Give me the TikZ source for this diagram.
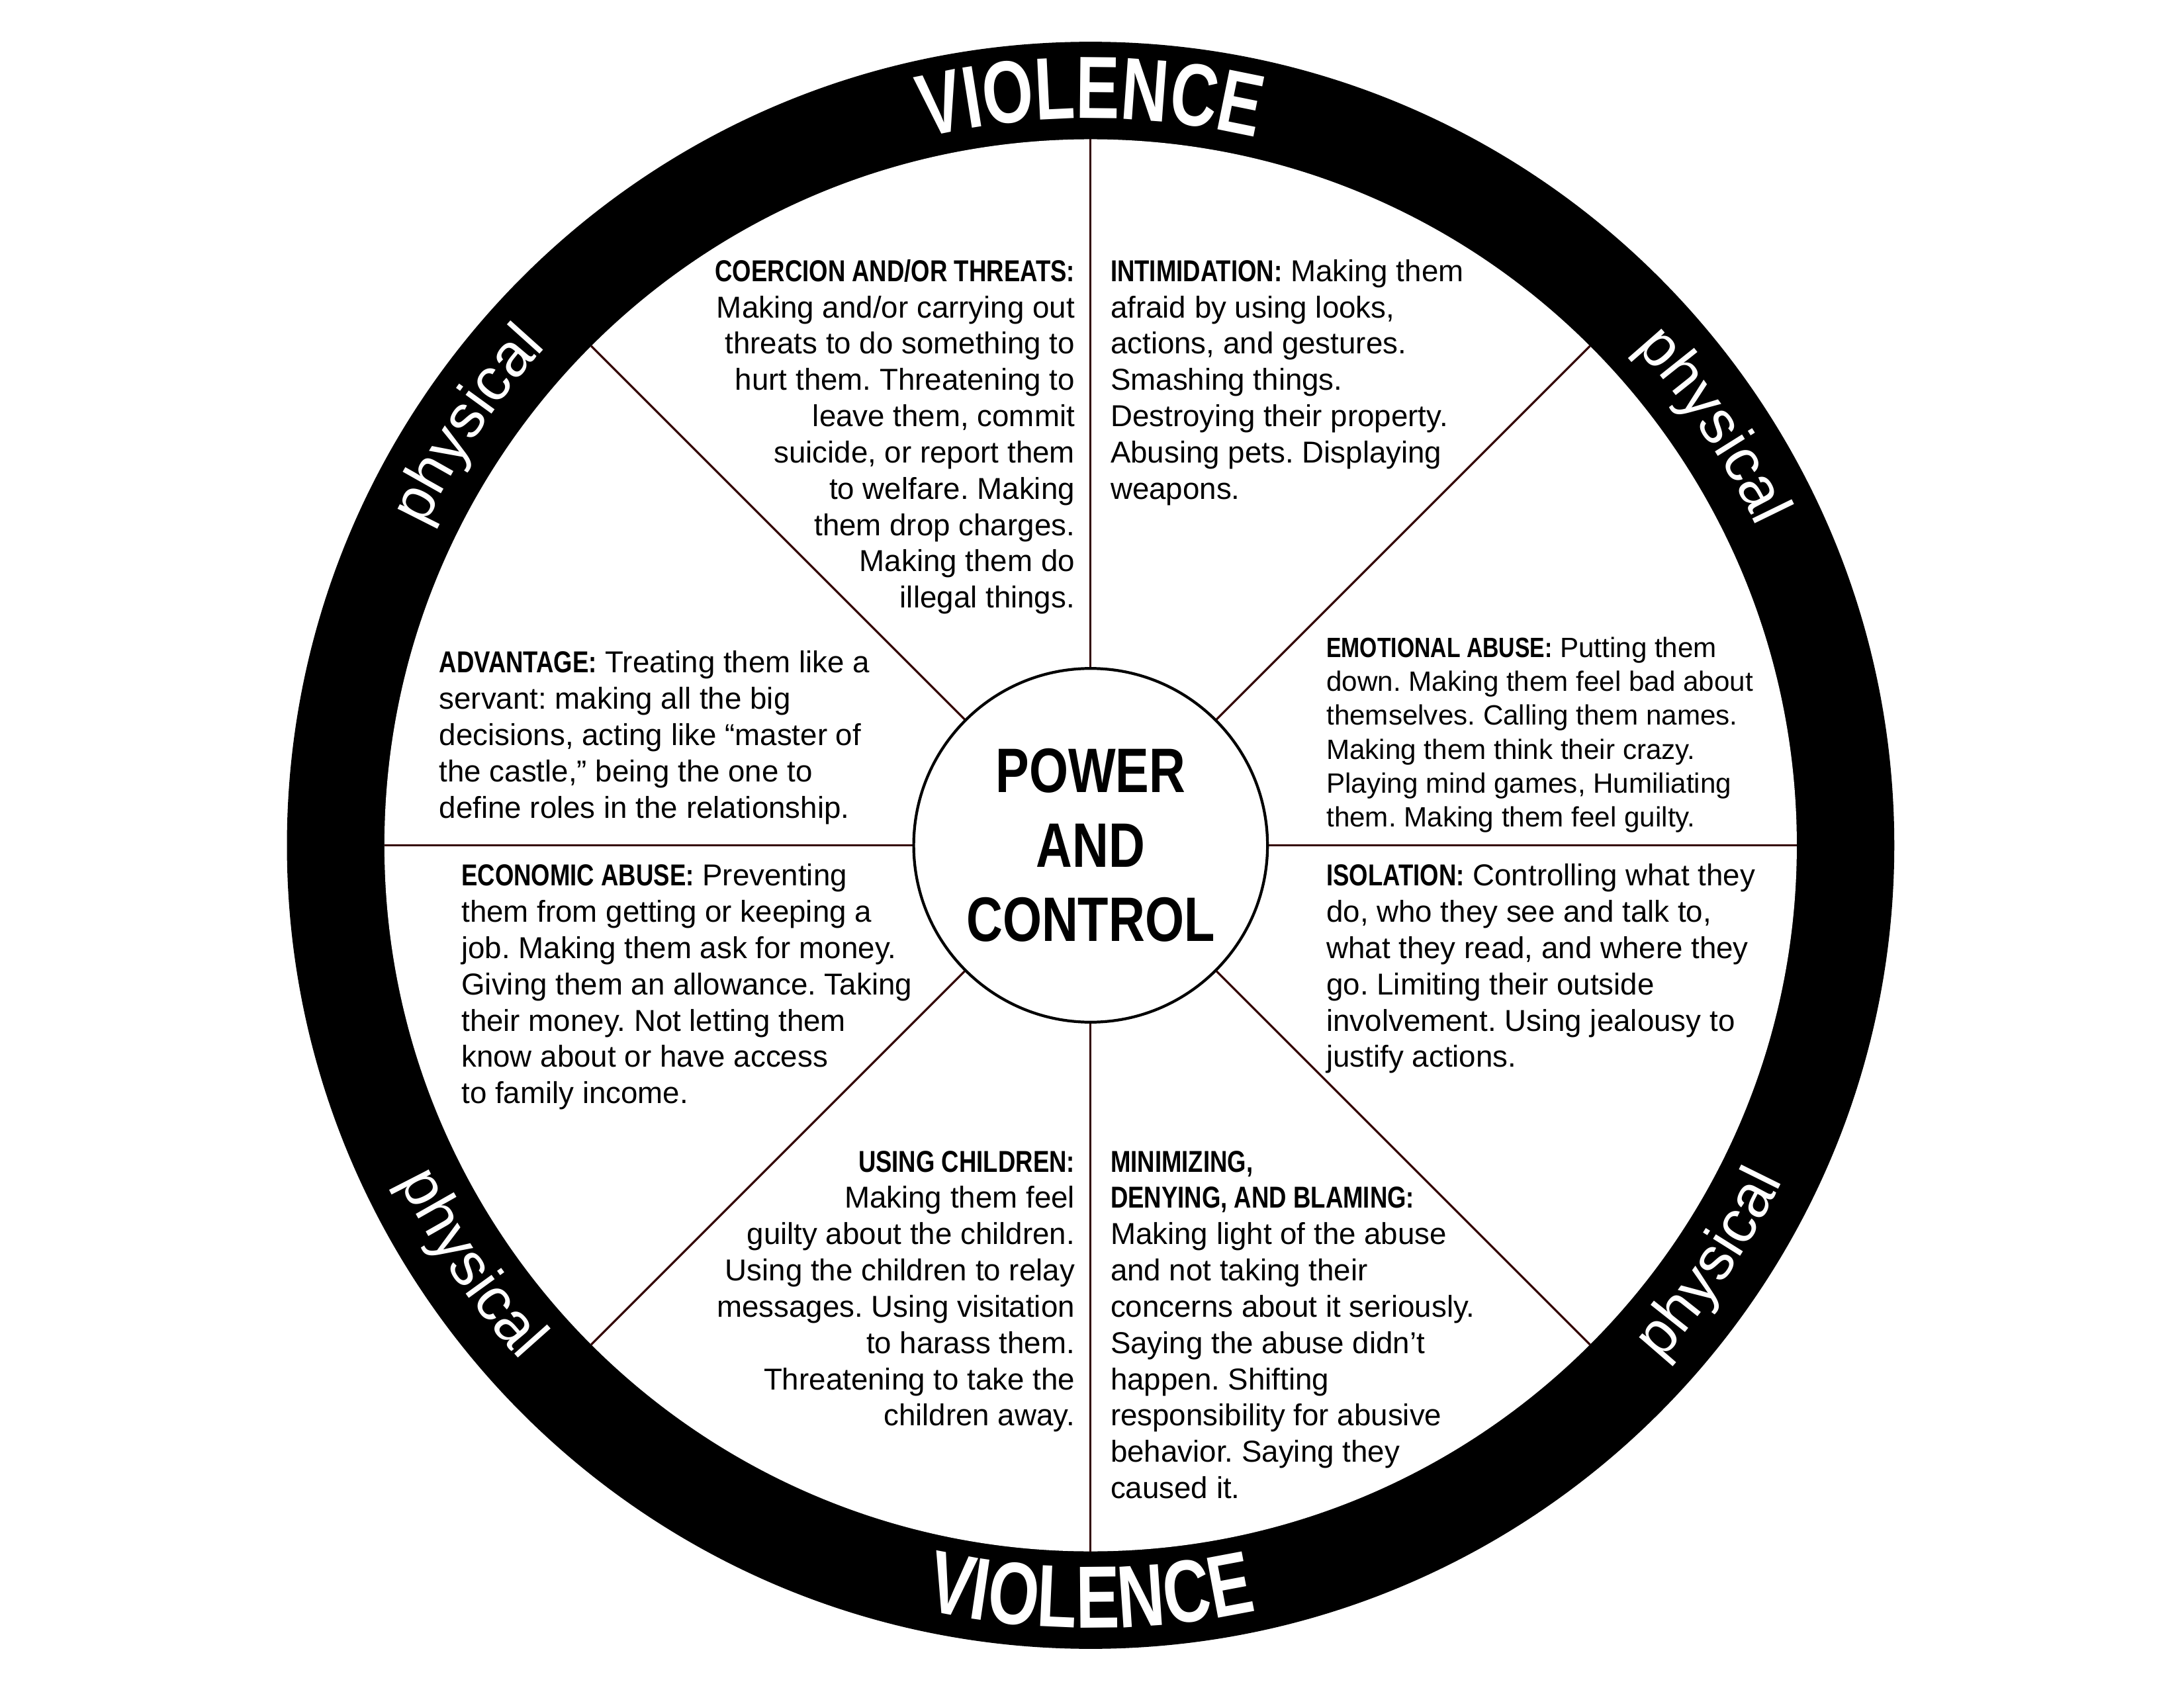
\documentclass[tikz,border=0pt]{standalone}
\usepackage{fontspec}
\setmainfont{Liberation Sans}
\newfontfamily\cond[FakeStretch=0.8]{Liberation Sans Bold}
\newfontfamily\vcond[FakeStretch=0.74]{Liberation Sans Bold}
\usetikzlibrary{decorations.text,calc}
\newcommand{\hd}[1]{{\cond #1}}
\frenchspacing
\tikzset{
  body/.style={font=\fontsize{13}{15.6}\selectfont, inner sep=0pt},
  spoke/.style={draw=black!80!red, line width=0.9pt},
}
\begin{document}
\begin{tikzpicture}[x=0.021046cm,y=0.021046cm]
\useasboundingbox (-783,-602) rectangle (785,607);
\coordinate (c) at (0,0);
% ring
\fill[black] (c) circle (577);
\fill[white] (c) circle (507);
% spokes
\foreach \a in {0,45,...,315}{
  \draw[spoke] ($(c)+(\a:127)$) -- ($(c)+(\a:507)$);
}
\node[draw=black, line width=1.2pt, circle, minimum size=254*0.021046cm, fill=white, inner sep=0pt,
  font=\cond\fontsize{27}{32}\selectfont, align=center] (pc) at (c) {POWER\\AND\\CONTROL};
% curved texts
\path[decorate, decoration={text along path, text align=center,
  text={|\color{white}\vcond\fontsize{38}{44}\selectfont|VIOLENCE}}]
  (115:522) arc[start angle=115, end angle=65, radius=522];
\path[decorate, decoration={text along path, text align=center,
  text={|\color{white}\vcond\fontsize{38}{44}\selectfont|VIOLENCE}}]
  (245:562) arc[start angle=245, end angle=295, radius=562];
\foreach \m in {146,34}{
\path[decorate, decoration={text along path, text align=center,
  text={|\color{white}\fontsize{26}{30}\selectfont|physical}}]
  ({\m+25}:530) arc[start angle={\m+25}, end angle={\m-25}, radius=530];
}
\foreach \m in {214,326}{
\path[decorate, decoration={text along path, text align=center,
  text={|\color{white}\fontsize{26}{30}\selectfont|physical}}]
  ({\m-25}:552) arc[start angle={\m-25}, end angle={\m+25}, radius=552];
}
% texts (screen coords converted: x-783, 607-y)
\node[body, anchor=north east, align=right] (coer) at (-11,421) {\hd{COERCION AND/OR THREATS:}\\Making and/or carrying out\\threats to do something to\\hurt them. Threatening to\\leave them, commit\\suicide, or report them\\to welfare. Making\\them drop charges.\\Making them do\\illegal things.};
\node[body, anchor=north west, align=left] (intim) at (14,421) {\hd{INTIMIDATION:} Making them\\afraid by using looks,\\actions, and gestures.\\Smashing things.\\Destroying their property.\\Abusing pets. Displaying\\weapons.};
\node[body, anchor=north west, align=left, font=\fontsize{12}{14.6}\selectfont] (emo) at (169,150) {\hd{EMOTIONAL ABUSE:} Putting them\\down. Making them feel bad about\\themselves. Calling them names.\\Making them think their crazy.\\Playing mind games, Humiliating\\them. Making them feel guilty.};
\node[body, anchor=north west, align=left] (iso) at (169,-13) {\hd{ISOLATION:} Controlling what they\\do, who they see and talk to,\\what they read, and where they\\go. Limiting their outside\\involvement. Using jealousy to\\justify actions.};
\node[body, anchor=north west, align=left] (mini) at (14,-219) {\hd{MINIMIZING,}\\\hd{DENYING, AND BLAMING:}\\Making light of the abuse\\and not taking their\\concerns about it seriously.\\Saying the abuse didn’t\\happen. Shifting\\responsibility for abusive\\behavior. Saying they\\caused it.};
\node[body, anchor=north east, align=right] (child) at (-11,-219) {\hd{USING CHILDREN:}\\Making them feel\\guilty about the children.\\Using the children to relay\\messages. Using visitation\\to harass them.\\Threatening to take the\\children away.};
\node[body, anchor=north west, align=left] (eco) at (-452,-13) {\hd{ECONOMIC ABUSE:} Preventing\\them from getting or keeping a\\job. Making them ask for money.\\Giving them an allowance. Taking\\their money. Not letting them\\know about or have access\\to family income.};
\node[body, anchor=north west, align=left] (adv) at (-468,140) {\hd{ADVANTAGE:} Treating them like a\\servant: making all the big\\decisions, acting like “master of\\the castle,” being the one to\\define roles in the relationship.};
\end{tikzpicture}
\end{document}
